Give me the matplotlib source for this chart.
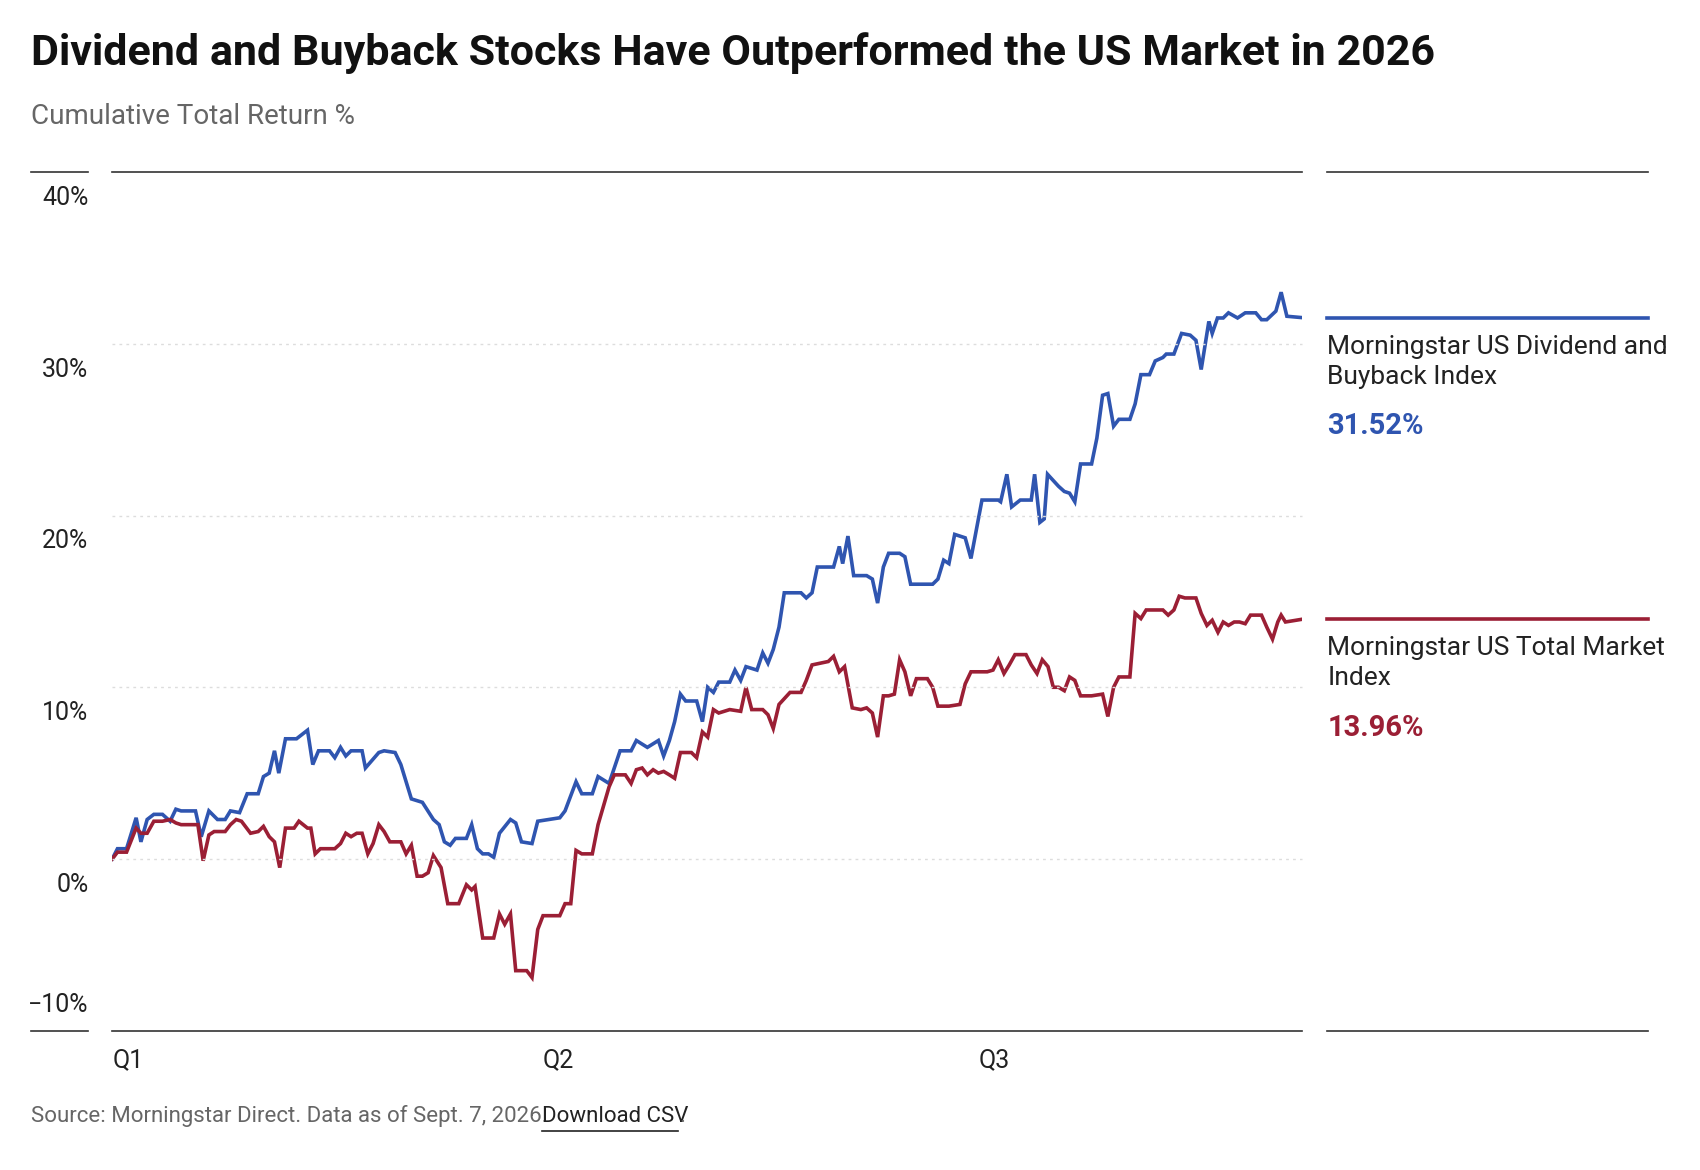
import matplotlib
matplotlib.use("Agg")
import matplotlib.pyplot as plt
from matplotlib import font_manager

# values (x = days since Jan 1, y = cumulative total return %)
blue_days = [0, 1.1, 3.0, 5.0, 6.0, 7.3, 8.7, 10.5, 12.1, 13.3, 14.4, 17.4, 18.6, 20.2, 22.0, 23.6, 24.7, 26.6,
             28.2, 30.5, 31.6, 32.8, 33.9, 34.8, 36.2, 38.5, 40.8, 41.9, 43.1, 45.4, 46.5, 47.7, 48.8, 49.9, 52.2,
             52.9, 55.7, 56.8, 59.1, 60.3, 62.5, 64.8, 67.1, 68.3, 69.4, 70.6, 71.7, 74.0, 75.1, 76.3, 77.4, 78.6,
             79.7, 80.9, 83.2, 84.3, 85.5, 87.7, 88.9, 91.2, 93.5, 94.6, 96.9, 98.1, 100.3, 101.5, 103.8, 106.1,
             108.4, 109.5, 111.8, 114.1, 115.2, 116.4, 117.5, 118.7, 119.8, 122.1, 123.3, 124.4, 125.6, 126.7,
             129.0, 130.1, 131.3, 132.4, 134.7, 135.9, 137.0, 138.1, 139.3, 140.4, 143.9, 145.0, 146.2, 147.3,
             150.7, 151.9, 152.6, 153.7, 154.9, 157.6, 158.8, 159.9, 161.1, 162.2, 164.5, 165.6, 166.8, 171.4,
             172.5, 173.7, 174.8, 176.0, 178.2, 179.4, 181.7, 185.1, 185.6, 186.9, 187.9, 189.7, 192.0, 192.7,
             193.8, 194.7, 195.4, 197.7, 198.9, 200.0, 201.1, 202.3, 204.6, 205.7, 206.9, 208.0, 209.2, 210.3,
             212.6, 213.7, 214.9, 216.7, 217.9, 219.5, 220.2, 221.8, 223.4, 225.2, 226.4, 227.5, 229.1, 229.8,
             230.9, 232.1, 233.2, 235.1, 236.7, 238.9, 240.1, 241.2, 243.1, 244.2, 245.4, 248.6]
blue_vals = [0, 0.6, 0.6, 2.4, 1.0, 2.3, 2.6, 2.6, 2.2, 2.9, 2.8, 2.8, 1.3, 2.8, 2.3, 2.3, 2.8, 2.7,
             3.8, 3.8, 4.8, 5.0, 6.3, 5.0, 7.0, 7.0, 7.5, 5.5, 6.3, 6.3, 5.9, 6.5, 6.0, 6.3, 6.3,
             5.3, 6.2, 6.3, 6.2, 5.5, 3.5, 3.3, 2.3, 2.0, 1.0, 0.8, 1.2, 1.2, 2.0, 0.6, 0.3, 0.3,
             0.1, 1.5, 2.3, 2.1, 1.0, 0.9, 2.2, 2.3, 2.4, 2.8, 4.5, 3.8, 3.8, 4.8, 4.4, 6.3,
             6.3, 6.9, 6.5, 6.9, 6.0, 6.9, 8.0, 9.6, 9.2, 9.2, 8.0, 10.0, 9.7, 10.3,
             10.3, 11.0, 10.4, 11.2, 11.0, 12.0, 11.4, 12.2, 13.5, 15.5, 15.5, 15.2, 15.5, 17.0,
             17.0, 18.2, 17.2, 18.8, 16.5, 16.5, 16.3, 14.9, 17.0, 17.8, 17.8, 17.6, 16.0, 16.0,
             16.3, 17.4, 17.2, 18.9, 18.7, 17.5, 20.9, 20.9, 20.8, 22.4, 20.5, 20.9, 20.9, 22.4,
             19.6, 19.8, 22.4, 21.7, 21.4, 21.3, 20.8, 23.0, 23.0, 24.5, 27.0, 27.1, 25.2, 25.6,
             25.6, 26.5, 28.2, 28.2, 29.0, 29.2, 29.4, 29.4, 30.6, 30.5, 30.2, 28.5, 31.3, 30.6,
             31.5, 31.5, 31.8, 31.5, 31.8, 31.8, 31.4, 31.4, 31.9, 33.0, 31.6, 31.52]

red_days = [0, 1.1, 3.0, 5.0, 6.0, 7.3, 8.7, 10.5, 12.1, 13.3, 14.4, 17.9, 19.0, 20.2, 21.3, 23.6, 24.7, 25.9,
            27.0, 28.9, 30.5, 31.6, 32.8, 33.9, 35.0, 36.2, 38.0, 39.0, 40.8, 41.5, 42.4, 43.5, 45.4, 46.5, 47.7,
            48.8, 49.9, 51.1, 52.2, 53.4, 54.5, 55.7, 56.8, 58.0, 60.3, 61.4, 62.5, 63.7, 64.8, 66.0, 67.1, 68.7,
            70.1, 72.4, 74.0, 75.1, 75.8, 77.4, 79.7, 80.9, 82.0, 83.2, 84.3, 86.6, 87.7, 88.9, 90.0, 92.3, 93.5,
            94.6, 95.8, 96.9, 98.1, 100.3, 101.5, 103.8, 104.9, 107.2, 108.4, 109.5, 110.7, 111.8, 113.0, 114.1,
            115.2, 116.4, 117.5, 118.7, 121.0, 122.1, 123.3, 124.4, 125.6, 126.7, 129.0, 131.3, 132.4, 133.6,
            135.9, 137.0, 138.1, 139.3, 141.6, 143.9, 145.0, 146.2, 149.6, 150.7, 151.9, 153.0, 154.6, 156.4,
            157.6, 158.8, 159.9, 161.1, 162.2, 163.4, 164.5, 165.6, 166.8, 168.0, 170.3, 171.4, 172.5, 174.8,
            177.1, 178.2, 179.4, 182.8, 184.0, 185.1, 186.3, 187.4, 188.6, 190.9, 192.0, 193.2, 194.3, 195.5,
            196.6, 197.7, 198.9, 200.0, 201.1, 202.3, 204.6, 206.9, 208.0, 209.2, 210.3, 212.6, 213.7, 214.9,
            216.0, 218.3, 219.5, 220.6, 221.8, 222.9, 224.1, 226.4, 227.5, 228.7, 229.8, 231.0, 232.1, 233.2,
            234.4, 235.5, 236.7, 237.8, 240.1, 241.2, 242.4, 243.5, 244.2, 245.1, 248.6]
red_vals = [0, 0.4, 0.4, 1.8, 1.5, 1.5, 2.2, 2.2, 2.3, 2.1, 2.0, 2.0, -0.1, 1.4, 1.6, 1.6, 2.0, 2.3,
            2.2, 1.5, 1.6, 1.9, 1.3, 1.0, -0.5, 1.8, 1.8, 2.2, 1.8, 1.8, 0.3, 0.6, 0.6, 0.6, 0.9,
            1.5, 1.3, 1.5, 1.5, 0.3, 0.9, 2.0, 1.6, 1.0, 1.0, 0.3, 0.8, -1.0, -1.0, -0.8, 0.2, -0.5,
            -2.6, -2.6, -1.5, -1.8, -1.6, -4.6, -4.6, -3.2, -3.8, -3.2, -6.5, -6.5, -6.9, -4.1, -3.3, -3.3, -3.3,
            -2.6, -2.6, 0.5, 0.3, 0.3, 2.0, 4.2, 4.9, 4.9, 4.4, 5.2, 5.3, 4.9, 5.2, 5.0,
            5.1, 4.9, 4.7, 6.2, 6.2, 5.9, 7.4, 7.1, 8.7, 8.5, 8.7, 8.6, 10.0, 8.7,
            8.7, 8.4, 7.6, 9.0, 9.7, 9.7, 10.4, 11.3, 11.5, 11.8, 10.9, 11.2, 8.8, 8.7,
            8.8, 8.5, 7.1, 9.5, 9.5, 9.6, 11.6, 10.9, 9.5, 10.5, 10.5, 10.0, 8.9, 8.9,
            9.0, 10.2, 10.9, 10.9, 11.0, 11.6, 10.8, 11.3, 11.9, 11.9, 11.3, 10.8, 11.6, 11.2,
            10.0, 10.0, 9.8, 10.6, 10.4, 9.5, 9.5, 9.6, 8.3, 10.0, 10.6, 10.6, 14.3, 14.0,
            14.5, 14.5, 14.5, 14.2, 14.5, 15.3, 15.2, 15.2, 14.3, 13.6, 13.9, 13.2, 13.8, 13.6,
            13.8, 13.8, 13.7, 14.2, 14.2, 13.5, 12.8, 13.8, 14.2, 13.8, 13.96]

quarter_days = [0, 90, 181]
quarter_labels = ["Q1", "Q2", "Q3"]
y_ticks = [-10, 0, 10, 20, 30, 40]

blue_name = "Morningstar US Dividend and\nBuyback Index"
red_name = "Morningstar US Total Market\nIndex"
BLUE = "#2f55b0"
RED = "#9b1f35"

names = {f.name for f in font_manager.fontManager.ttflist}
narrow = "Liberation Sans Narrow" if "Liberation Sans Narrow" in names else "Roboto"
plt.rcParams["font.family"] = [narrow, "DejaVu Sans"]

fig = plt.figure(figsize=(17, 11.7), dpi=100)
ax = fig.add_axes([0.066, 0.119, 0.700, 0.734])

n = min(len(blue_days), len(blue_vals))
ax.plot(blue_days[:n], blue_vals[:n], color=BLUE, lw=2.6, solid_joinstyle="miter")
m = min(len(red_days), len(red_vals))
ax.plot(red_days[:m], red_vals[:m], color=RED, lw=2.6, solid_joinstyle="miter")

x_end = blue_days[-1]
ax.set_xlim(0, x_end)
ax.set_ylim(-10, 40)
for s in ax.spines.values():
    s.set_visible(False)
ax.set_xticks([])
ax.set_yticks([])

ytr = ax.get_yaxis_transform()
for v in y_ticks:
    if v in (-10, 40):
        ax.plot([0, 1], [v, v], transform=ytr, color="#333333", lw=1.2, clip_on=False)
        ax.plot([-0.068, -0.02], [v, v], transform=ytr, color="#333333", lw=1.2, clip_on=False)
        ax.plot([1.021, 1.291], [v, v], transform=ytr, color="#333333", lw=1.2, clip_on=False)
    else:
        ax.plot([0, 1], [v, v], transform=ytr, color="#dddddd", lw=1.0, ls=(0, (2, 3)), clip_on=False)
    off = 1.5 if v == -10 else -1.5
    ax.text(-0.02, v + off, f"{v}%".replace("-", "\u2212"), transform=ytr, ha="right",
            va="center", fontsize=18, color="#222222")

for d, lab in zip(quarter_days, quarter_labels):
    ax.text(d, -11.0, lab, ha="left", va="top", fontsize=18, color="#222222")

# end-of-line markers in the right panel
for vals, col, name in [(blue_vals, BLUE, blue_name), (red_vals, RED, red_name)]:
    last = vals[-1]
    ax.plot([1.021, 1.291], [last, last], transform=ytr, color=col, lw=2.6, clip_on=False)
    ax.text(1.021, last - 1.0, name, transform=ytr, ha="left", va="top", fontsize=19,
            color="#222222", linespacing=1.3)
    ax.text(1.021, last - 5.5, f"{last:.2f}%", transform=ytr, ha="left", va="top",
            fontsize=21, fontweight="bold", color=col)

fig.text(0.018, 0.955, "Dividend and Buyback Stocks Have Outperformed the US Market in 2026",
         fontsize=31, fontweight="bold", color="#111111", va="center")
fig.text(0.018, 0.90, "Cumulative Total Return %", fontsize=20, color="#666666", va="center")
fig.text(0.018, 0.046, "Source: Morningstar Direct. Data as of Sept. 7, 2026. ", fontsize=16,
         color="#666666", va="center")
fig.text(0.319, 0.046, "Download CSV", fontsize=16, color="#222222", va="center")
fig.text(0.3995, 0.046, ".", fontsize=16, color="#666666", va="center")
fig.add_artist(plt.Line2D([0.319, 0.399], [0.033, 0.033], color="#222222", lw=1.2))

fig.savefig("out.png", dpi=100)
